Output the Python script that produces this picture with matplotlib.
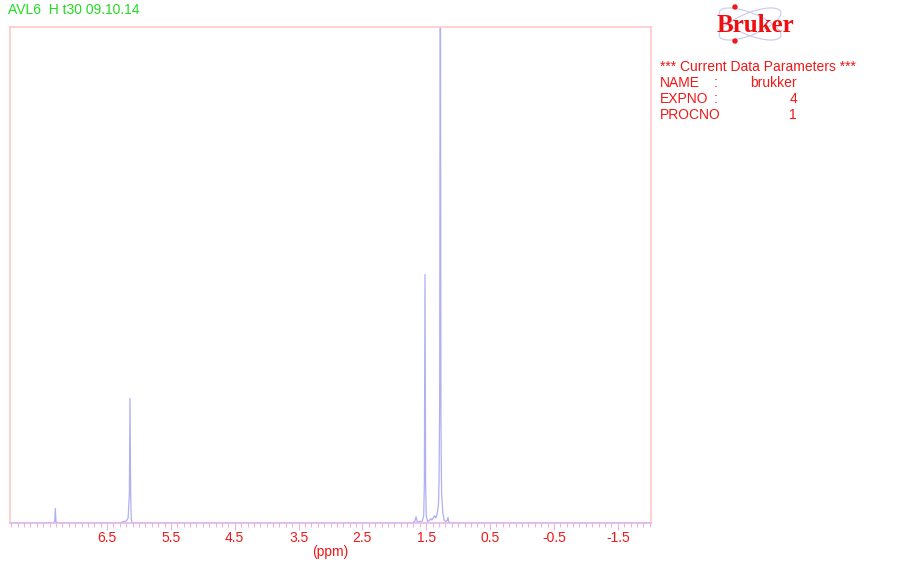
import matplotlib
matplotlib.use("Agg")
import matplotlib.pyplot as plt
from matplotlib.patches import Ellipse
from matplotlib.ticker import MultipleLocator, FixedLocator

plt.rcParams['font.family'] = ['Liberation Sans', 'DejaVu Sans']

# Spectrum trace (ppm, relative intensity; 100 = top of plot)
ppm = [8.02, 7.34, 7.32, 7.31, 7.30, 7.28,
       6.30, 6.24, 6.20, 6.17, 6.15, 6.14, 6.13, 6.12, 6.10,
       1.72, 1.68, 1.66, 1.64, 1.56, 1.54, 1.53, 1.52, 1.51, 1.50, 1.48,
       1.45, 1.43, 1.41, 1.39, 1.37, 1.35, 1.33, 1.31, 1.30, 1.29, 1.28,
       1.27, 1.26, 1.24, 1.22, 1.19, 1.17, 1.16, 1.15, 1.12, -2.02]
intensity = [0.0, 0.0, 0.3, 3.0, 0.3, 0.0,
             0.0, 0.3, 0.4, 1.0, 6.0, 25.2, 6.0, 0.6, 0.0,
             0.0, 0.3, 1.3, 0.2, 0.4, 1.5, 8.0, 50.2, 8.0, 1.5, 0.3,
             0.5, 0.9, 0.6, 1.0, 1.5, 1.0, 1.8, 3.5, 8.0, 25.0, 140.0,
             20.0, 6.0, 2.0, 0.6, 0.3, 0.6, 1.1, 0.3, 0.0, 0.0]

x_range = (8.02, -2.02)
tick_labels = ["6.5", "5.5", "4.5", "3.5", "2.5", "1.5", "0.5", "-0.5", "-1.5"]
header = "AVL6  H t30 09.10.14"
param_title = "*** Current Data Parameters ***"
param_names = ["NAME", "EXPNO", "PROCNO"]
param_colons = [":", ":", ""]
param_values = ["brukker", "4", "1"]

W, H = 899, 567
fig = plt.figure(figsize=(W / 100, H / 100), dpi=100)
ax = fig.add_axes([10 / W, 1 - 523 / H, (651 - 10) / W, (523 - 27) / H])

ax.plot(ppm, intensity, color="#b0b0f2", lw=0.9, solid_joinstyle="miter")
ax.set_xlim(*x_range)
ax.set_ylim(0, 100)

frame_col = "#ffc8c8"
for s in ax.spines.values():
    s.set_color(frame_col)
    s.set_linewidth(1.2)
ax.spines['bottom'].set_color("#e0b8e8")

red = "#f01818"
ax.xaxis.set_major_locator(FixedLocator([float(t) for t in tick_labels]))
ax.set_xticklabels(tick_labels)
ax.xaxis.set_minor_locator(MultipleLocator(0.1))
ax.tick_params(axis='x', which='major', length=5, width=0.8, color="#f0b0d8",
               labelcolor=red, labelsize=10, pad=0.5)
ax.tick_params(axis='x', which='minor', length=3, width=0.8, color="#f0b0d8")
ax.set_yticks([])
ax.set_xlabel("(ppm)", color=red, fontsize=10, labelpad=0)

fig.text(8 / W, 1 - 10 / H, header, color="#22dd22", fontsize=10, va="center", ha="left")

# Bruker logo
for ang in (22, -22):
    e = Ellipse((750, H - 24), 66, 22, angle=ang, fill=False, ec="#c8c8ee", lw=0.8,
                transform=None)
    fig.add_artist(e)
fig.add_artist(Ellipse((735, H - 7), 4, 4, color=red, transform=None))
fig.add_artist(Ellipse((735, H - 41), 4, 4, color=red, transform=None))
fig.text(755 / W, 1 - 25 / H, "Bruker", color="#ee1010", fontsize=18, fontweight="bold",
         family="Liberation Serif", ha="center", va="center")

fig.text(660 / W, 1 - 67 / H, param_title, color=red, fontsize=10, va="center", ha="left")
ys = [83, 99, 115]
for name, colon, val, y in zip(param_names, param_colons, param_values, ys):
    fig.text(660 / W, 1 - y / H, name, color=red, fontsize=10, va="center", ha="left")
    if colon:
        fig.text(716 / W, 1 - y / H, colon, color=red, fontsize=10, va="center", ha="center")
    fig.text(797 / W, 1 - y / H, val, color=red, fontsize=10, va="center", ha="right")

fig.savefig("out.png", dpi=100)
